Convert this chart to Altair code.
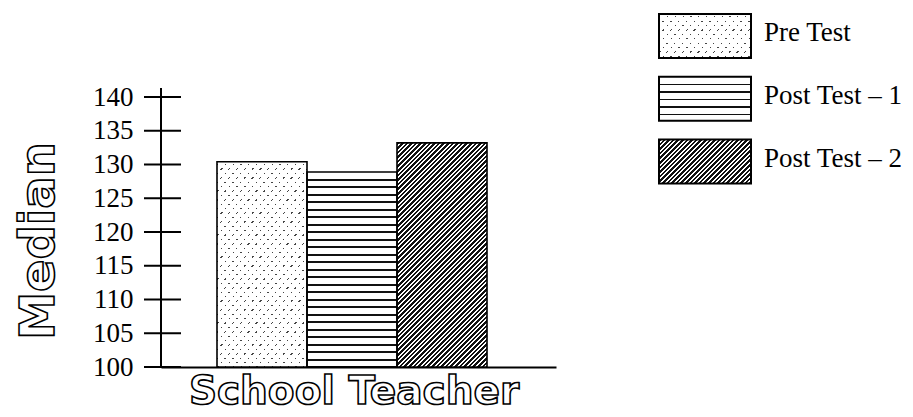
import altair as alt
import pandas as pd

# ---------------- data ----------------
series = ["Pre Test", "Post Test – 1", "Post Test – 2"]
medians = [130.4, 128.9, 133.2]
group_label = ["School Teacher"]
y_label = ["Median"]
tick_values = [100, 105, 110, 115, 120, 125, 130, 135, 140]

# ---------------- layout constants ----------------
Y_MIN, Y_MAX = 100, 152.3
Y_AXIS_TOP = 141.33
PLOT_W, PLOT_H = 395, 353
PX_PER_UNIT = PLOT_H / (Y_MAX - Y_MIN)
BAR_W = 90


def stripes(alpha, beta, W, H, period, thick, line_col, bg_col, phase=0.0):
    """Linear gradient (bbox units) drawing lines along isolines of
    Q = alpha*x + beta*y (x, y in pixels inside a W x H box)."""
    qmax = W * alpha + H * beta
    s = qmax / ((W * alpha) ** 2 + (H * beta) ** 2)
    a, b = s * W * alpha, s * H * beta
    stops = [{"offset": 0, "color": bg_col}]
    q = phase
    while q < qmax:
        q0, q1 = max(q, 0.0), min(q + thick, qmax)
        if q1 > q0:
            o0, o1 = round(q0 / qmax, 5), round(q1 / qmax, 5)
            stops += [
                {"offset": o0, "color": bg_col},
                {"offset": o0, "color": line_col},
                {"offset": o1, "color": line_col},
                {"offset": o1, "color": bg_col},
            ]
        q += period
    stops.append({"offset": 1, "color": bg_col})
    return {"gradient": "linear", "x1": 0, "y1": 0, "x2": round(a, 5), "y2": round(b, 5), "stops": stops}


DOT_PX, DOT_ROW, DOT = 7.8, 4.4, 1.3
TRANSP = "rgba(255,255,255,0)"


def fills_for(kind, W, H):
    """Return list of gradient fills (bottom to top) for a pattern."""
    if kind == 0:  # staggered dots
        rows = stripes(0, 1, W, H, DOT_ROW, DOT, "#444444", "#ffffff", phase=DOT_ROW / 2)
        cols = stripes(1 / DOT_PX, 1 / (2 * DOT_ROW), W, H, 1.0, DOT / DOT_PX, TRANSP, "#ffffff", phase=0.3)
        return [rows, cols]
    if kind == 1:  # horizontal lines
        return [stripes(0, 1, W, H, 7.5, 1.6, "#111111", "#ffffff", phase=7.0)]
    # diagonal hatching
    return [stripes(1, 1, W, H, 4.6, 2.5, "#111111", "#ffffff", phase=0.0)]


# ---------------- main chart ----------------
df = pd.DataFrame({"series": series, "median": medians})
ticks_df = pd.DataFrame({"tick": tick_values})
ylab_df = pd.DataFrame({"t": y_label})
xlab_df = pd.DataFrame({"t": group_label})
one_df = pd.DataFrame({"a": [Y_MIN], "b": [Y_AXIS_TOP]})

x_scale = alt.Scale(domain=series, paddingInner=0, paddingOuter=0.6944, align=0.448)
x_axis = alt.Axis(title=None, labels=False, ticks=False, domain=True,
                  domainColor="black", domainWidth=2, grid=False)
y_scale = alt.Scale(domain=[Y_MIN, Y_MAX], nice=False, zero=False)
y_axis = alt.Axis(title=None, values=tick_values, domain=False, ticks=False, tickSize=0,
                  labelPadding=28, labelFont="Liberation Serif", labelFontSize=27,
                  labelColor="black", grid=False)

X = alt.X("series:N", sort=series, scale=x_scale, axis=x_axis)

layers = []
for i, name in enumerate(series):
    H = (medians[i] - Y_MIN) * PX_PER_UNIT
    for g in fills_for(i, BAR_W, H):
        layers.append(
            alt.Chart(df).transform_filter(alt.datum.series == name)
            .mark_bar(fill=g, strokeWidth=0)
            .encode(x=X, y=alt.Y("median:Q", scale=y_scale, axis=y_axis), y2=alt.datum(Y_MIN))
        )

outline = alt.Chart(df).mark_bar(fillOpacity=0, stroke="black", strokeWidth=1.6).encode(
    x=X, y=alt.Y("median:Q", scale=y_scale, axis=y_axis), y2=alt.datum(Y_MIN)
)

y_line = alt.Chart(one_df).mark_rule(color="black", strokeWidth=2).encode(
    x=alt.value(0),
    y=alt.Y("a:Q", scale=y_scale, axis=y_axis),
    y2="b:Q",
)

tick_rules = alt.Chart(ticks_df).mark_rule(color="black", strokeWidth=2).encode(
    y=alt.Y("tick:Q", scale=y_scale, axis=y_axis),
    x=alt.value(-17),
    x2=alt.value(20),
)

ylab = alt.Chart(ylab_df).mark_text(
    angle=270, font="DejaVu Sans", fontWeight="bold", fontSize=48,
    fill="white", stroke="black", strokeWidth=1.6, align="center", baseline="alphabetic",
).encode(text="t:N", x=alt.value(-107), y=alt.value(227))

xlab = alt.Chart(xlab_df).mark_text(
    font="DejaVu Sans", fontWeight="bold", fontSize=39,
    fill="white", stroke="black", strokeWidth=1.6, align="center", baseline="alphabetic",
).encode(text="t:N", x=alt.value(193), y=alt.value(390))

main = alt.layer(*layers, outline, y_line, tick_rules, ylab, xlab).properties(
    width=PLOT_W, height=PLOT_H
)

# ---------------- legend panel ----------------
SW_W, SW_H = 92, 44
leg_df = pd.DataFrame({"series": series})
LY = alt.Y("series:N", sort=series,
           scale=alt.Scale(domain=series, paddingInner=0.3, paddingOuter=0), axis=None)

leg_layers = []
for i, name in enumerate(series):
    for g in fills_for(i, SW_W, SW_H):
        leg_layers.append(
            alt.Chart(leg_df).transform_filter(alt.datum.series == name)
            .mark_rect(fill=g, strokeWidth=0)
            .encode(y=LY, x=alt.value(0), x2=alt.value(SW_W))
        )
leg_outline = alt.Chart(leg_df).mark_rect(fillOpacity=0, stroke="black", strokeWidth=2).encode(
    y=LY, x=alt.value(0), x2=alt.value(SW_W)
)
leg_text = alt.Chart(leg_df).mark_text(
    align="left", baseline="middle", font="Liberation Serif", fontSize=27, color="black", dy=-3
).encode(y=LY, x=alt.value(105), text="series:N")

legend = alt.layer(*leg_layers, leg_outline, leg_text).properties(width=SW_W, height=169.5)

chart = alt.hconcat(main, legend, spacing=102).properties(
    padding={"left": 8, "top": 5, "right": 0, "bottom": 0}
).configure_view(stroke=None)

chart.save("out.html", embed_options={"renderer": "svg", "actions": False})
